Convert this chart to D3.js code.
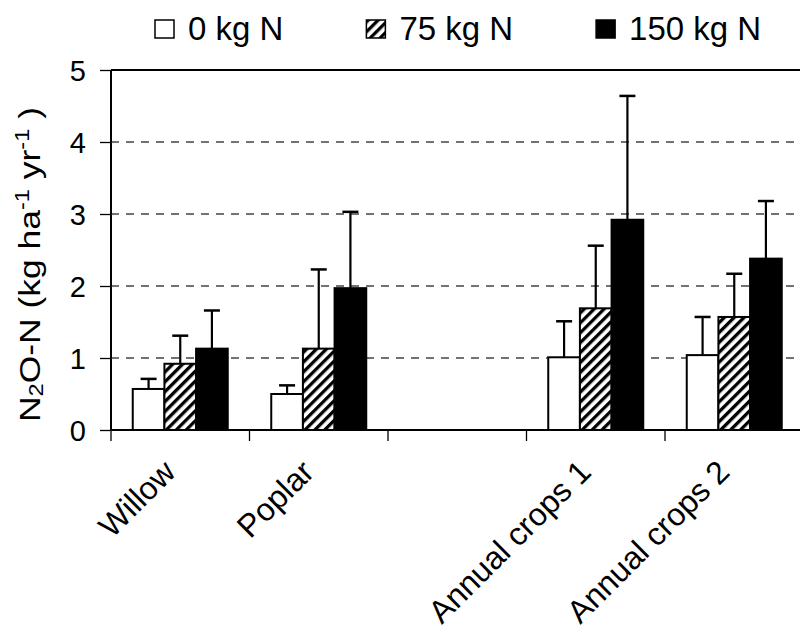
<!DOCTYPE html>
<html>
<head>
<meta charset="utf-8">
<script src="https://cdn.jsdelivr.net/npm/d3@7"></script>
<style>
  html, body { margin: 0; padding: 0; background: #fff; }
  svg { display: block; font-family: "Liberation Sans", Arial, sans-serif; }
</style>
</head>
<body>
<svg id="chart" width="800" height="632"></svg>
<script>
// ---- data ----
const categories = ["Willow", "Poplar", "", "Annual crops 1", "Annual crops 2"];
const seriesNames = ["0 kg N", "75 kg N", "150 kg N"];
const values0   = [0.57, 0.50, null, 1.01, 1.04];
const values75  = [0.92, 1.13, null, 1.69, 1.57];
const values150 = [1.13, 1.97, null, 2.92, 2.38];
const err0   = [0.14, 0.12, null, 0.50, 0.53];
const err75  = [0.39, 1.10, null, 0.87, 0.60];
const err150 = [0.53, 1.06, null, 1.72, 0.80];
const yTicks = [0, 1, 2, 3, 4, 5];

const seriesValues = [values0, values75, values150];
const seriesErrors = [err0, err75, err150];

const svg = d3.select("#chart");
const mLeft = 111, mRight = 803.5, mTop = 70, mBottom = 430;

const x = d3.scaleBand().domain(categories.map((c, i) => i)).range([mLeft, mRight]).padding(0);
const groupW = 95;
const xs = d3.scaleBand().domain(seriesNames).range([0, groupW]).padding(0);
const y = d3.scaleLinear().domain([0, 5]).range([mBottom, mTop]);

// hatch pattern
const defs = svg.append("defs");
const pat = defs.append("pattern")
  .attr("id", "hatch").attr("patternUnits", "userSpaceOnUse")
  .attr("width", 7).attr("height", 7)
  .attr("patternTransform", "rotate(45)");
pat.append("rect").attr("width", 7).attr("height", 7).attr("fill", "#fff");
pat.append("rect").attr("x", 0).attr("y", 0).attr("width", 3.3).attr("height", 7).attr("fill", "#000");

const fills = ["#fff", "url(#hatch)", "#000"];

// gridlines
svg.append("g").selectAll("line").data(yTicks.filter(t => t > 0 && t < 5)).join("line")
  .attr("x1", mLeft).attr("x2", 800).attr("y1", d => y(d)).attr("y2", d => y(d))
  .attr("stroke", "#444").attr("stroke-width", 1.3).attr("stroke-dasharray", "8,7");

// top border
svg.append("line").attr("x1", mLeft).attr("x2", 800).attr("y1", y(5)).attr("y2", y(5))
  .attr("stroke", "#000").attr("stroke-width", 2);

// bars
const groups = svg.append("g");
seriesNames.forEach((s, si) => {
  const data = categories.map((c, i) => ({ i, v: seriesValues[si][i], e: seriesErrors[si][i] }))
    .filter(d => d.v != null);
  const bx = d => x(d.i) + (x.bandwidth() - groupW) / 2 + xs(s);
  groups.append("g").selectAll("line").data(data).join("line")
    .attr("x1", d => bx(d) + xs.bandwidth() / 2).attr("x2", d => bx(d) + xs.bandwidth() / 2)
    .attr("y1", d => y(d.v)).attr("y2", d => y(d.v + d.e))
    .attr("stroke", "#000").attr("stroke-width", 2.2);
  groups.append("g").selectAll("line").data(data).join("line")
    .attr("x1", d => bx(d) + xs.bandwidth() / 2 - 8).attr("x2", d => bx(d) + xs.bandwidth() / 2 + 8)
    .attr("y1", d => y(d.v + d.e)).attr("y2", d => y(d.v + d.e))
    .attr("stroke", "#000").attr("stroke-width", 2.5);
  groups.append("g").selectAll("rect").data(data).join("rect")
    .attr("x", d => bx(d)).attr("width", xs.bandwidth())
    .attr("y", d => y(d.v)).attr("height", d => y(0) - y(d.v))
    .attr("fill", fills[si]).attr("stroke", "#000").attr("stroke-width", 2);
});

// y axis
const yAxis = d3.axisLeft(y).tickValues(yTicks).tickSize(11).tickPadding(14).tickFormat(d3.format("d"));
const gy = svg.append("g").attr("transform", `translate(${mLeft},0)`).call(yAxis);
gy.select(".domain").attr("stroke", "#000").attr("stroke-width", 2).attr("d", `M0,${mTop}V${mBottom}`);
gy.selectAll(".tick line").attr("stroke", "#000").attr("stroke-width", 1.3);
gy.selectAll(".tick text").attr("font-size", 29).attr("fill", "#000")
  .attr("font-family", "'Liberation Sans', Arial, sans-serif").attr("dy", "0.36em");

// x axis
svg.append("line").attr("x1", mLeft).attr("x2", 800).attr("y1", mBottom).attr("y2", mBottom)
  .attr("stroke", "#000").attr("stroke-width", 2);
const boundaries = categories.map((c, i) => x(i));
svg.append("g").selectAll("line").data(boundaries).join("line")
  .attr("x1", d => d).attr("x2", d => d).attr("y1", mBottom).attr("y2", mBottom + 11)
  .attr("stroke", "#000").attr("stroke-width", 1.3);

// x labels
svg.append("g").selectAll("text").data(categories.map((c, i) => ({ c, i })).filter(d => d.c)).join("text")
  .attr("transform", d => `translate(${x(d.i) + x.bandwidth() / 2 - 3},${mBottom + 44}) rotate(-45)`)
  .attr("text-anchor", "end").attr("font-size", 32).attr("fill", "#000")
  .text(d => d.c);

// y label
const yl = svg.append("text")
  .attr("transform", `translate(40,${(107 + 422) / 2}) rotate(-90)`)
  .attr("text-anchor", "middle").attr("font-size", 30).attr("fill", "#000")
  .attr("textLength", 315).attr("lengthAdjust", "spacingAndGlyphs");
yl.append("tspan").text("N");
yl.append("tspan").attr("font-size", 20).attr("dy", 3).text("2");
yl.append("tspan").attr("dy", -3).text("O-N (kg ha");
yl.append("tspan").attr("font-size", 20).attr("dy", -11).text("-1");
yl.append("tspan").attr("dy", 11).text("  yr");
yl.append("tspan").attr("font-size", 20).attr("dy", -11).text("-1");
yl.append("tspan").attr("dy", 11).text(" )");

// legend
let lx = 155;
seriesNames.forEach((s, si) => {
  svg.append("rect").attr("x", lx).attr("y", 20).attr("width", 19).attr("height", 18)
    .attr("fill", fills[si]).attr("stroke", "#000").attr("stroke-width", 1.5);
  const t = svg.append("text").attr("x", lx + 33).attr("y", 40).attr("font-size", 33)
    .attr("fill", "#000").text(s);
  lx = lx + 33 + t.node().getComputedTextLength() + 83;
});
</script>
</body>
</html>
